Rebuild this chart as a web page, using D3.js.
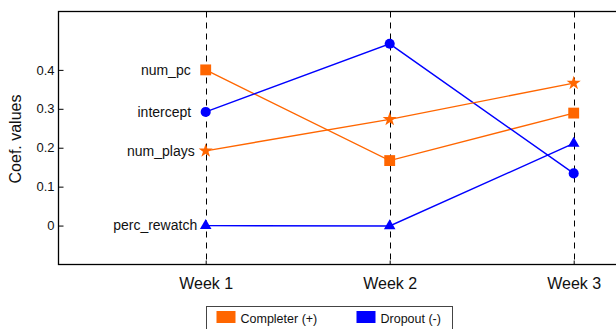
<!DOCTYPE html>
<html>
<head>
<meta charset="utf-8">
<script src="https://cdn.jsdelivr.net/npm/d3@7/dist/d3.min.js"></script>
<style>
  html, body { margin: 0; padding: 0; background: #fff; }
  svg { display: block; font-family: "Liberation Sans", Arial, sans-serif; }
</style>
</head>
<body>
<svg id="chart" width="616" height="329"></svg>
<script>
// Weeks on the x axis
const weeks = [1, 2, 3];
const weekLabels = ["Week 1", "Week 2", "Week 3"];

// Coefficient series, one value per week
const seriesNames = ["num_pc", "intercept", "num_plays", "perc_rewatch"];
const numPc       = [0.400, 0.167, 0.289];
const intercept   = [0.292, 0.467, 0.134];
const numPlays    = [0.192, 0.273, 0.366];
const percRewatch = [0.000, -0.001, 0.211];
const seriesGroup = ["Completer (+)", "Dropout (-)", "Completer (+)", "Dropout (-)"];

// Y tick values and labels
const yTicks = [0, 0.1, 0.2, 0.3, 0.4];
const yTickLabels = ["0", "0.1", "0.2", "0.3", "0.4"];

// Legend entries
const legendLabels = ["Completer (+)", "Dropout (-)"];

const groupColor = { "Completer (+)": "#ff6600", "Dropout (-)": "#0000ff" };
const markerType = {
  num_pc: d3.symbolSquare,
  intercept: d3.symbolCircle,
  num_plays: d3.symbolStar,
  perc_rewatch: d3.symbolTriangle
};
const markerSize = { num_pc: 118, intercept: 80, num_plays: 62, perc_rewatch: 58 };
// Distance between the series name and the Week 1 marker
const labelGap = { num_pc: 15, intercept: 14.5, num_plays: 11, perc_rewatch: 8.5 };

const seriesValues = [numPc, intercept, numPlays, percRewatch];
const series = seriesNames.map((name, i) => ({
  name,
  group: seriesGroup[i],
  points: weeks.map((w, j) => ({ week: w, value: seriesValues[i][j] }))
}));

const svg = d3.select("#chart");

const x = d3.scaleLinear().domain([0.2, 3.8]).range([58.5, 720.9]);
const y = d3.scaleLinear().domain([-0.1, 0.55]).range([264.5, 11.5]);

const [x0, x1] = x.range();
const [yb, yt] = y.range();

// Dashed guide lines at each week
svg.append("g")
  .selectAll("line")
  .data(weeks)
  .join("line")
  .attr("x1", d => Math.round(x(d)) + 0.5)
  .attr("x2", d => Math.round(x(d)) + 0.5)
  .attr("y1", yt)
  .attr("y2", yb)
  .attr("stroke", "#000")
  .attr("stroke-width", 1)
  .attr("stroke-dasharray", "6,5");

// Y axis: ticks pointing into the plot
const yAxis = d3.axisRight(y)
  .tickValues(yTicks)
  .tickFormat((d, i) => yTickLabels[i])
  .tickSize(5)
  .tickPadding(0);
const gy = svg.append("g").attr("transform", `translate(${x0},0)`).call(yAxis);
gy.select(".domain").remove();
gy.selectAll(".tick line").attr("stroke", "#000");
gy.selectAll(".tick text")
  .attr("x", -4)
  .attr("text-anchor", "end")
  .attr("font-size", 13)
  .attr("font-family", "Liberation Sans, Arial, sans-serif")
  .attr("fill", "#111");

// X axis: ticks pointing up into the plot
const xAxis = d3.axisTop(x)
  .tickValues(weeks)
  .tickFormat((d, i) => weekLabels[i])
  .tickSize(4);
const gx = svg.append("g").attr("transform", `translate(0,${yb})`).call(xAxis);
gx.select(".domain").remove();
gx.selectAll(".tick line").attr("stroke", "#000");
gx.selectAll(".tick text")
  .attr("y", 24)
  .attr("dy", 0)
  .attr("font-size", 16)
  .attr("font-family", "Liberation Sans, Arial, sans-serif")
  .attr("fill", "#111");

// Plot frame
svg.append("rect")
  .attr("x", x0)
  .attr("y", yt)
  .attr("width", x1 - x0)
  .attr("height", yb - yt)
  .attr("fill", "none")
  .attr("stroke", "#000")
  .attr("stroke-width", 1.3);

// Y title
svg.append("text")
  .attr("transform", `translate(21,${(yt + yb) / 2 + 1}) rotate(-90)`)
  .attr("text-anchor", "middle")
  .attr("font-size", 16)
  .attr("fill", "#111")
  .text("Coef. values");

// Series lines and markers
const line = d3.line().x(d => x(d.week)).y(d => y(d.value));
const gs = svg.append("g")
  .selectAll("g")
  .data(series)
  .join("g");

gs.append("path")
  .attr("d", d => line(d.points))
  .attr("fill", "none")
  .attr("stroke", d => groupColor[d.group])
  .attr("stroke-width", 1.4);

gs.selectAll("path.marker")
  .data(d => d.points.map(p => ({ ...p, name: d.name, group: d.group })))
  .join("path")
  .attr("class", "marker")
  .attr("transform", d => `translate(${x(d.week)},${y(d.value)})`)
  .attr("d", d => d3.symbol(markerType[d.name], markerSize[d.name])())
  .attr("fill", d => groupColor[d.group]);

// Series names beside the Week 1 markers
gs.append("text")
  .attr("x", d => x(weeks[0]) - labelGap[d.name])
  .attr("y", d => y(d.points[0].value))
  .attr("dy", "0.35em")
  .attr("text-anchor", "end")
  .attr("font-size", 14)
  .attr("fill", "#111")
  .text(d => d.name);

// Legend
const legend = svg.append("g").attr("transform", "translate(206.5,306.5)");
legend.append("rect")
  .attr("width", 246)
  .attr("height", 40)
  .attr("fill", "#fff")
  .attr("stroke", "#444")
  .attr("stroke-width", 1);
const items = legend.selectAll("g.item")
  .data(legendLabels)
  .join("g")
  .attr("class", "item")
  .attr("transform", (d, i) => `translate(${10 + i * 140},4.5)`);
items.append("rect")
  .attr("width", 19)
  .attr("height", 12)
  .attr("fill", d => groupColor[d]);
items.append("text")
  .attr("x", 24)
  .attr("y", 11.5)
  .attr("font-size", 12.5)
  .attr("fill", "#111")
  .text(d => d);
</script>
</body>
</html>
